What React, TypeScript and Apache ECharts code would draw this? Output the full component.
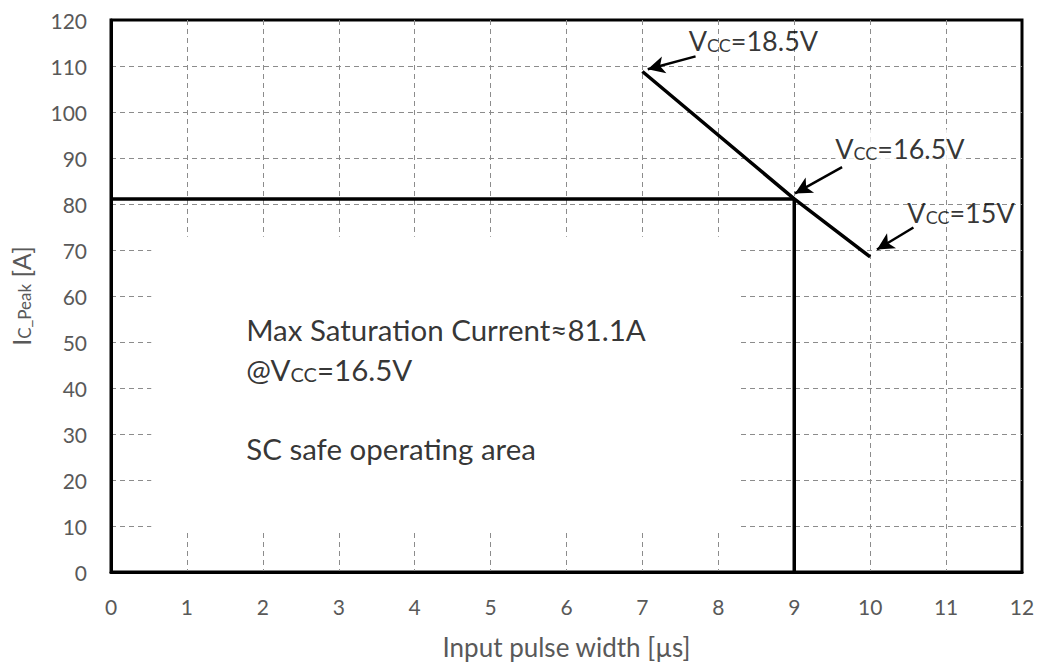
import React, { useEffect, useRef } from "react";
import * as echarts from "echarts";

// ---- data ----
const pulseWidth = [7, 9, 10]; // µs
const peakCurrent = [108.8, 81.1, 68.5]; // A
const satWidth = 9;
const satCurrent = 81.1;
const vccLabels = ["18.5V", "16.5V", "15V"];
// annotation anchors (data coords): label position and arrow start/tip
const labelX = [7.61, 9.54, 10.49];
const labelY = [116.0, 92.7, 78.6];
const arrowFromX = [7.7, 9.63, 10.57];
const arrowFromY = [112.1, 88.0, 74.9];
const arrowToX = [7.07, 9.01, 10.09];
const arrowToY = [109.3, 82.3, 70.1];
const noteX = 1.78;
const noteY = [53.3, 44.6, 27.4];
const noteLines = ["Max Saturation Current≈81.1A", "@V{s|CC}=16.5V", "SC safe operating area"];
const noteBox = [[0.53, 9.1], [8.26, 72.9]];

const FONT = "Lato";

export default function App() {
  const ref = useRef<HTMLDivElement>(null);
  useEffect(() => {
    document.body.style.margin = "0";
    const chart = echarts.init(ref.current!, null, { renderer: "svg" });
    const richVcc = {
      m: { fontSize: 27, fontFamily: FONT, color: "#000", lineHeight: 32, verticalAlign: "bottom" },
      s: { fontSize: 18, fontFamily: FONT, color: "#000", lineHeight: 26, verticalAlign: "bottom" },
    };
    const richNote = {
      m: { fontSize: 29.5, fontFamily: FONT, color: "#000", lineHeight: 35, verticalAlign: "bottom" },
      s: { fontSize: 20, fontFamily: FONT, color: "#000", lineHeight: 28, verticalAlign: "bottom" },
    };
    chart.setOption({
      animation: false,
      backgroundColor: "#fff",
      grid: {
        left: 110,
        right: 19,
        top: 20,
        bottom: 97,
        show: true,
        borderColor: "#000",
        borderWidth: 3,
      },
      xAxis: {
        type: "value",
        min: 0,
        max: 12,
        interval: 1,
        name: "Input pulse width [µs]",
        nameLocation: "middle",
        nameGap: 62,
        nameTextStyle: { fontFamily: FONT, fontSize: 26, color: "#595959" },
        axisLine: { show: true, lineStyle: { color: "#000", width: 3 } },
        axisTick: { show: false },
        axisLabel: { fontFamily: FONT, fontSize: 21, color: "#595959", margin: 24 },
        splitLine: {
          show: true,
          showMinLine: false,
          showMaxLine: false,
          lineStyle: { color: "#8c8c8c", width: 1, type: [5, 4] },
        },
      },
      yAxis: {
        type: "value",
        min: 0,
        max: 120,
        interval: 10,
        name: "{i|I}{s|C_Peak}{i| [A]}",
        nameLocation: "middle",
        nameGap: 78,
        nameTextStyle: {
          rich: {
            i: { fontFamily: FONT, fontSize: 25, color: "#595959", lineHeight: 30, verticalAlign: "bottom" },
            s: { fontFamily: FONT, fontSize: 17, color: "#595959", lineHeight: 24, verticalAlign: "bottom" },
          },
        },
        axisLine: { show: true, lineStyle: { color: "#000", width: 3 } },
        axisTick: { show: false },
        axisLabel: { fontFamily: FONT, fontSize: 21, color: "#595959", margin: 24 },
        splitLine: {
          show: true,
          showMinLine: false,
          showMaxLine: false,
          lineStyle: { color: "#8c8c8c", width: 1, type: [5, 4] },
        },
      },
      series: [
        {
          type: "line",
          name: "white-box",
          data: [],
          silent: true,
          markArea: {
            silent: true,
            itemStyle: { color: "#fff", opacity: 1 },
            data: [[{ coord: noteBox[0] }, { coord: noteBox[1] }]],
          },
          z: 1,
        },
        {
          type: "line",
          name: "limit",
          data: [
            [0, satCurrent],
            [satWidth, satCurrent],
            [satWidth, 0],
          ],
          symbol: "none",
          lineStyle: { color: "#000", width: 3.5 },
          z: 3,
        },
        {
          type: "line",
          name: "Ic peak",
          data: pulseWidth.map((x, i) => [x, peakCurrent[i]]),
          symbol: "none",
          lineStyle: { color: "#000", width: 3.5 },
          z: 4,
          markLine: {
            silent: true,
            symbol: ["none", "arrow"],
            symbolSize: [13, 17],
            label: { show: false },
            lineStyle: { color: "#000", width: 2.5, type: "solid" },
            data: arrowFromX.map((x, i) => [
              { coord: [x, arrowFromY[i]] },
              { coord: [arrowToX[i], arrowToY[i]] },
            ]),
          },
        },
        {
          type: "scatter",
          name: "vcc labels",
          symbolSize: 0,
          z: 5,
          data: labelX.map((x, i) => ({
            value: [x, labelY[i]],
            label: {
              show: true,
              position: "right",
              distance: 0,
              formatter: "{m|V}{s|CC}{m|=" + vccLabels[i] + "}",
              rich: richVcc,
              backgroundColor: i === 1 ? "#fff" : "transparent",
            },
          })),
        },
        {
          type: "scatter",
          name: "notes",
          symbolSize: 0,
          z: 5,
          data: noteY.map((y, i) => ({
            value: [noteX, y],
            label: {
              show: true,
              position: "right",
              distance: 0,
              formatter: noteLines[i]
                .split(/(\{s\|CC\})/)
                .map((p) => (p === "{s|CC}" ? p : p ? "{m|" + p + "}" : ""))
                .join(""),
              rich: richNote,
            },
          })),
        },
      ],
    });
    return () => chart.dispose();
  }, []);
  return <div ref={ref} style={{ width: 1041, height: 669 }} />;
}
